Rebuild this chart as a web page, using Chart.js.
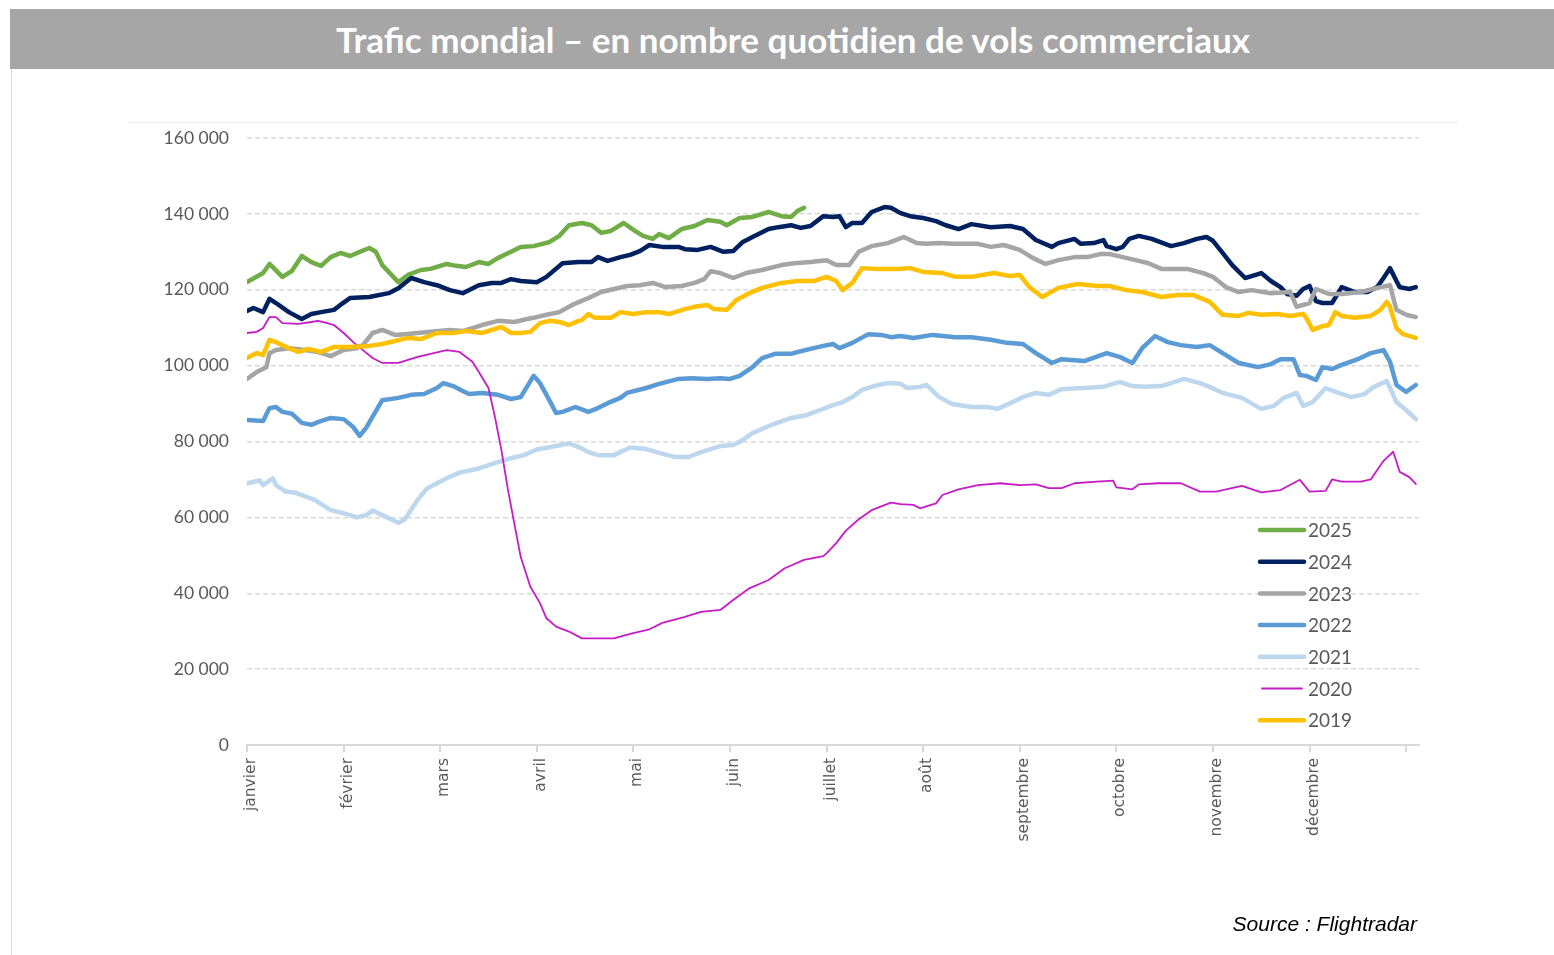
<!DOCTYPE html>
<html lang="fr">
<head>
<meta charset="utf-8">
<title>Trafic mondial</title>
<script src="https://cdn.jsdelivr.net/npm/chart.js@4.4.1/dist/chart.umd.min.js"></script>
<style>
    html, body { margin: 0; padding: 0; background: #fff; }
    body { width: 1554px; height: 955px; position: relative; overflow: hidden; }
    .title-bar {
        position: absolute; left: 10px; top: 9px; width: 1560px; height: 60px;
        background: #a6a6a6;
    }
    .title-text {
        position: absolute; left: 0; top: 9px; width: 1586px; height: 60px;
        line-height: 60px; text-align: center; color: #fff;
        font-family: Lato, sans-serif; font-weight: 700; font-size: 35px;
    }
    .left-rule { position: absolute; left: 11px; top: 69px; width: 1px; height: 886px; background: #d9d9d9; }
    .top-rule { position: absolute; left: 130px; top: 122px; width: 1328px; height: 1px; background: #ececec; }
    .source {
        position: absolute; right: 137px; top: 912px;
        font-family: "Liberation Sans", Arial, sans-serif; font-style: italic; font-size: 21px; color: #000;
    }
    #wrap { position: absolute; left: 0; top: 0; width: 1554px; height: 955px; }
</style>
</head>
<body>
<div class="title-bar"></div>
<div class="title-text">Trafic mondial – en nombre quotidien de vols commerciaux</div>
<div class="left-rule"></div>
<div class="top-rule"></div>
<div id="wrap"><canvas id="trafficChart" width="1554" height="955"></canvas></div>
<div class="source">Source : Flightradar</div>

<script>
// ==========================================
// DATA (jour de l'année -> vols quotidiens)
// ==========================================

const MONTHS = ['janvier', 'février', 'mars', 'avril', 'mai', 'juin', 'juillet',
    'août', 'septembre', 'octobre', 'novembre', 'décembre'];
const MONTH_TICKS = [0, 30, 60, 90, 120, 150, 180, 210, 240, 270, 300, 330, 360];
const Y_TICKS = [0, 20000, 40000, 60000, 80000, 100000, 120000, 140000, 160000];

const d2025 = [0, 5, 7, 11, 14, 17, 20, 23, 26, 29, 32, 35, 38, 40, 42, 47, 50, 54, 57, 62,
    65, 68, 72, 75, 78, 82, 85, 89, 94, 97, 100, 104, 107, 110, 113, 117, 120, 123, 126, 128,
    131, 135, 139, 143, 147, 149, 153, 157, 162, 166, 169, 171, 173];
const v2025 = [122000, 124400, 126800, 123400, 125000, 128900, 127300, 126300, 128600, 129700,
    128900, 130000, 131000, 130000, 126500, 122000, 123900, 125200, 125500, 126800,
    126300, 126000, 127300, 126800, 128400, 130000, 131300, 131500, 132600, 134200,
    137000, 137600, 137000, 135000, 135500, 137600, 135800, 134200, 133400, 134700,
    133600, 136000, 136800, 138400, 137900, 137000, 138900, 139200, 140500, 139400,
    139200, 140800, 141600];

const d2024 = [0, 2, 5, 7, 9, 13, 17, 20, 23, 27, 29, 32, 38, 44, 47, 51, 55, 59, 63, 67,
    72, 76, 79, 82, 85, 90, 93, 98, 103, 107, 109, 112, 116, 119, 122, 125, 129, 134, 136, 140,
    144, 148, 151, 154, 157, 162, 165, 169, 172, 175, 179, 182, 184, 186, 188, 191, 194, 198, 200, 203,
    206, 210, 214, 217, 221, 225, 231, 237, 241, 245, 250, 252, 257, 259, 263, 266, 267, 270, 272, 274,
    277, 281, 287, 291, 295, 298, 300, 303, 306, 310, 312, 315, 318, 321, 323, 326, 328, 330, 332, 334,
    337, 340, 344, 348, 351, 353, 355, 357, 358, 361, 363];
const v2024 = [114400, 115200, 114100, 117600, 116500, 114100, 112300, 113600, 114100, 114700,
    116000, 117800, 118100, 119100, 120400, 123100, 122000, 121200, 119900, 119100,
    121200, 121800, 121800, 122800, 122300, 122000, 123400, 127000, 127300, 127300,
    128600, 127600, 128600, 129200, 130200, 131800, 131300, 131300, 130700, 130500,
    131300, 130000, 130200, 132600, 133900, 136000, 136500, 137000, 136300, 136800,
    139400, 139200, 139400, 136500, 137600, 137600, 140500, 141800, 141600, 140200,
    139400, 138900, 138100, 137000, 136000, 137300, 136500, 136800, 136000, 133100,
    131300, 132300, 133400, 132100, 132300, 133100, 131500, 130700, 131300, 133400,
    134200, 133400, 131500, 132300, 133400, 133900, 132900, 129700, 126500, 123100,
    123600, 124400, 122300, 120700, 118900, 118400, 120200, 121000, 117000, 116500,
    116500, 120700, 119400, 119400, 120700, 123100, 125700, 122300, 120700, 120200, 120700];

const d2023 = [0, 3, 6, 7, 9, 13, 18, 22, 26, 30, 34, 36, 39, 42, 46, 49, 53, 57, 63, 67,
    73, 78, 83, 87, 89, 93, 97, 101, 106, 110, 114, 118, 122, 126, 130, 135, 139, 142, 144, 147,
    151, 155, 160, 166, 170, 175, 180, 183, 187, 190, 194, 199, 204, 208, 211, 215, 219, 227, 231, 235,
    240, 244, 248, 252, 257, 261, 265, 268, 272, 276, 280, 284, 292, 297, 300, 304, 308, 312, 318, 324,
    326, 330, 332, 336, 340, 346, 351, 355, 357, 360, 363];
const v2023 = [96500, 98300, 99600, 103300, 104100, 104600, 104100, 103600, 102500, 104100,
    104600, 105400, 108600, 109400, 108100, 108300, 108600, 108900, 109400, 109100,
    110700, 111800, 111500, 112300, 112600, 113400, 114100, 116000, 117800, 119400,
    120200, 121000, 121200, 121800, 120700, 121000, 121800, 122800, 124900, 124400,
    123100, 124400, 125200, 126500, 127000, 127300, 127800, 126500, 126500, 130000,
    131500, 132300, 133900, 132300, 132100, 132300, 132100, 132100, 131300, 131800,
    130500, 128400, 126800, 127800, 128600, 128600, 129400, 129400, 128600, 127800,
    127000, 125500, 125500, 124400, 123400, 120700, 119400, 119900, 119100, 119400,
    115500, 116500, 120200, 118900, 118900, 119400, 120500, 121200, 114700, 113400, 112800];

const d2022 = [0, 5, 7, 9, 11, 14, 17, 20, 22, 26, 30, 33, 35, 37, 42, 47, 51, 55, 59, 61,
    64, 67, 69, 73, 78, 82, 85, 89, 91, 93, 96, 98, 102, 106, 109, 112, 116, 118, 124, 128,
    134, 138, 143, 147, 150, 153, 157, 160, 164, 169, 171, 175, 179, 182, 184, 188, 193, 197, 200, 203,
    207, 213, 220, 225, 231, 236, 241, 245, 250, 253, 260, 267, 271, 275, 278, 282, 286, 290, 295, 299,
    303, 308, 314, 318, 321, 325, 327, 329, 332, 334, 337, 340, 345, 349, 353, 355, 357, 360, 363];
const v2022 = [85700, 85400, 88800, 89100, 87800, 87300, 84900, 84400, 85100, 86200,
    85900, 83800, 81500, 83600, 90900, 91500, 92300, 92500, 94100, 95400,
    94600, 93300, 92500, 92800, 92300, 91200, 91700, 97300, 95400, 92300,
    87500, 87800, 89100, 87800, 88800, 90100, 91500, 92800, 94100, 95200,
    96500, 96700, 96500, 96700, 96500, 97300, 99600, 102000, 103100, 103100,
    103600, 104400, 105200, 105700, 104600, 106000, 108300, 108100, 107500, 107800,
    107300, 108100, 107500, 107500, 106800, 106000, 105700, 103300, 100700, 101700,
    101200, 103300, 102300, 100700, 104600, 107800, 106200, 105400, 104900, 105400,
    103300, 100700, 99600, 100400, 101700, 101700, 97500, 97300, 96200, 99600,
    99100, 100200, 101700, 103300, 104100, 101000, 94900, 93100, 94900];

const d2021 = [0, 4, 5, 8, 9, 12, 15, 21, 26, 30, 34, 37, 39, 42, 47, 49, 53, 56, 59, 62,
    66, 72, 77, 82, 86, 90, 94, 100, 104, 106, 109, 114, 119, 124, 128, 133, 137, 141, 147, 151,
    154, 157, 163, 169, 174, 178, 182, 185, 188, 191, 196, 199, 203, 205, 209, 211, 215, 219, 225, 230,
    233, 237, 241, 245, 249, 253, 260, 266, 271, 275, 279, 284, 291, 296, 299, 303, 309, 315, 319, 322,
    326, 328, 331, 335, 339, 343, 347, 350, 354, 357, 360, 363];
const v2021 = [69000, 69700, 68500, 70300, 68500, 66800, 66500, 64600, 61900, 61100,
    60000, 60600, 61800, 60600, 58600, 59500, 64600, 67700, 69000, 70300,
    71800, 72900, 74300, 75600, 76400, 77900, 78500, 79500, 78200, 77200,
    76400, 76400, 78400, 78000, 77000, 75900, 75900, 77200, 78800, 79100,
    80400, 82200, 84400, 86200, 87000, 88300, 89600, 90400, 91700, 93600,
    94900, 95400, 95200, 94100, 94400, 94900, 91700, 89900, 89100, 89100,
    88600, 90100, 91700, 92800, 92300, 93800, 94100, 94400, 95700, 94600,
    94400, 94600, 96500, 95400, 94400, 92800, 91500, 88600, 89400, 91500,
    92800, 89400, 90400, 94100, 92800, 91700, 92500, 94400, 95900, 90400, 88300, 85900];

const d2020 = [0, 3, 5, 7, 9, 11, 16, 20, 22, 25, 27, 30, 33, 36, 39, 42, 47, 50, 53, 58,
    62, 66, 70, 72, 75, 77, 79, 81, 83, 85, 88, 91, 93, 96, 100, 104, 114, 119, 125, 129,
    136, 141, 147, 151, 156, 162, 167, 173, 179, 180, 183, 186, 190, 194, 200, 203, 207, 209, 214, 216,
    221, 227, 234, 240, 245, 249, 253, 257, 264, 269, 270, 275, 277, 283, 290, 296, 301, 309, 315, 321,
    327, 330, 335, 337, 340, 346, 349, 353, 356, 358, 361, 363];
const v2020 = [108600, 108900, 109900, 112800, 112800, 111200, 111000, 111500, 111800, 111200,
    110700, 108600, 106200, 104100, 102000, 100700, 100700, 101500, 102300, 103300,
    104100, 103600, 101000, 98300, 94100, 86500, 77800, 67500, 58500, 49600,
    41700, 37400, 33400, 31200, 29900, 28100, 28100, 29300, 30500, 32200,
    33800, 35100, 35600, 38200, 41300, 43500, 46600, 48800, 49800, 50500,
    53200, 56500, 59500, 61900, 63900, 63500, 63300, 62400, 63700, 65900,
    67400, 68500, 69000, 68500, 68700, 67700, 67700, 69000, 69400, 69700,
    67900, 67400, 68700, 69000, 69000, 66800, 66800, 68300, 66600, 67200,
    69900, 66800, 67000, 70000, 69400, 69400, 70000, 74900, 77300, 72000, 70600, 68800];

const d2019 = [0, 3, 5, 7, 9, 13, 16, 19, 23, 27, 32, 38, 42, 46, 50, 54, 59, 64, 68, 73,
    79, 82, 85, 88, 91, 94, 97, 100, 103, 104, 106, 108, 113, 116, 120, 124, 128, 131, 136, 139,
    143, 145, 149, 152, 156, 160, 166, 171, 176, 180, 183, 185, 188, 191, 196, 202, 206, 210, 216, 220,
    225, 232, 237, 240, 243, 247, 252, 258, 264, 268, 273, 278, 284, 289, 294, 299, 303, 308, 311, 315,
    320, 324, 328, 329, 331, 334, 336, 338, 340, 344, 349, 352, 354, 355, 357, 359, 363];
const v2019 = [102000, 103300, 102800, 106800, 106200, 104600, 103600, 104400, 103600, 104900,
    104900, 105200, 105700, 106500, 107300, 107000, 108600, 108600, 109100, 108600,
    110200, 108600, 108600, 108900, 111200, 111800, 111500, 110700, 111800, 112000,
    113600, 112600, 112600, 114100, 113600, 114100, 114100, 113600, 114900, 115500,
    116000, 114900, 114700, 117300, 119100, 120500, 121800, 122300, 122300, 123400,
    122300, 119900, 121800, 125700, 125500, 125500, 125700, 124700, 124400, 123400,
    123400, 124400, 123600, 123900, 120700, 118100, 120500, 121500, 121000, 121000,
    119900, 119400, 118100, 118600, 118600, 116800, 113400, 113100, 113900, 113400,
    113600, 113100, 113600, 112600, 109400, 110400, 110700, 114100, 113100, 112600,
    113100, 114700, 116800, 115500, 109900, 108300, 107300];

// ==========================================
// SERIES SETUP
// ==========================================

const SERIES = [
    { label: '2025', days: d2025, values: v2025, color: '#70ad47', width: 4.5 },
    { label: '2024', days: d2024, values: v2024, color: '#002060', width: 4.5 },
    { label: '2023', days: d2023, values: v2023, color: '#a5a5a5', width: 4.5 },
    { label: '2022', days: d2022, values: v2022, color: '#5b9bd5', width: 4.5 },
    { label: '2021', days: d2021, values: v2021, color: '#bdd7ee', width: 4.5 },
    { label: '2020', days: d2020, values: v2020, color: '#c61cc6', width: 1.8 },
    { label: '2019', days: d2019, values: v2019, color: '#ffc000', width: 4.5 }
];

const TEXT_GREY = '#595959';
const GRID_GREY = '#d9d9d9';

// Format number with spaces (160 000)
function formatNumber(num) {
    return num.toString().replace(/\B(?=(\d{3})+(?!\d))/g, ' ');
}

// Legend drawn inside the plot, bottom right
const yearLegendPlugin = {
    id: 'yearLegend',
    afterDraw: function(chart) {
        const ctx = chart.ctx;
        const area = chart.chartArea;
        ctx.save();
        ctx.font = "19px Lato, sans-serif";
        ctx.textBaseline = 'middle';
        ctx.textAlign = 'left';
        chart.data.datasets.forEach((ds, i) => {
            const y = area.bottom - 215 + i * 31.7;
            const thin = ds.borderWidth < 3;
            ctx.beginPath();
            ctx.lineCap = 'round';
            ctx.strokeStyle = ds.borderColor;
            ctx.lineWidth = thin ? 1.8 : 4.5;
            ctx.moveTo(area.right - (thin ? 157 : 159), y);
            ctx.lineTo(area.right - (thin ? 117 : 115), y);
            ctx.stroke();
            ctx.fillStyle = TEXT_GREY;
            ctx.fillText(ds.label, area.right - 111, y + 1);
        });
        ctx.restore();
    }
};

const datasets = SERIES.map((s, i) => ({
    label: s.label,
    data: s.days.map((d, k) => ({ x: d, y: s.values[k] })),
    borderColor: s.color,
    backgroundColor: s.color,
    borderWidth: s.width,
    pointRadius: 0,
    tension: 0,
    fill: false,
    borderJoinStyle: 'round',
    borderCapStyle: 'round',
    order: SERIES.length - 1 - i   // 2019 drawn on top
}));

const trafficChart = new Chart(document.getElementById('trafficChart'), {
    type: 'line',
    data: { datasets: datasets },
    options: {
        responsive: false,
        animation: false,
        layout: { padding: { left: 0, top: 138, right: 135, bottom: 0 } },
        plugins: {
            legend: { display: false },
            tooltip: { enabled: false }
        },
        scales: {
            x: {
                type: 'linear',
                min: 0,
                max: 364,
                afterBuildTicks: function(scale) {
                    scale.ticks = MONTH_TICKS.map(v => ({ value: v }));
                },
                afterFit: function(scale) { scale.height = 210; },
                grid: {
                    drawOnChartArea: false,
                    drawTicks: true,
                    tickLength: 7,
                    color: GRID_GREY,
                    lineWidth: 2
                },
                border: { display: true, color: GRID_GREY, width: 2 },
                ticks: {
                    autoSkip: false,
                    minRotation: 90,
                    maxRotation: 90,
                    padding: 6,
                    labelOffset: 4,
                    color: TEXT_GREY,
                    font: { family: "'DejaVu Sans', sans-serif", size: 15.5 },
                    callback: function(value) {
                        const idx = MONTH_TICKS.indexOf(value);
                        return MONTHS[idx] !== undefined ? MONTHS[idx] : '';
                    }
                }
            },
            y: {
                min: 0,
                max: 160000,
                afterBuildTicks: function(scale) {
                    scale.ticks = Y_TICKS.map(v => ({ value: v }));
                },
                afterFit: function(scale) { scale.width = 247; },
                grid: {
                    drawTicks: false,
                    color: GRID_GREY,
                    lineWidth: 1.5
                },
                border: { display: false, dash: [5, 3] },
                ticks: {
                    padding: 18,
                    color: TEXT_GREY,
                    font: { family: "Lato, sans-serif", size: 17.5 },
                    callback: function(value) { return formatNumber(value); }
                }
            }
        }
    },
    plugins: [yearLegendPlugin]
});
</script>
</body>
</html>
